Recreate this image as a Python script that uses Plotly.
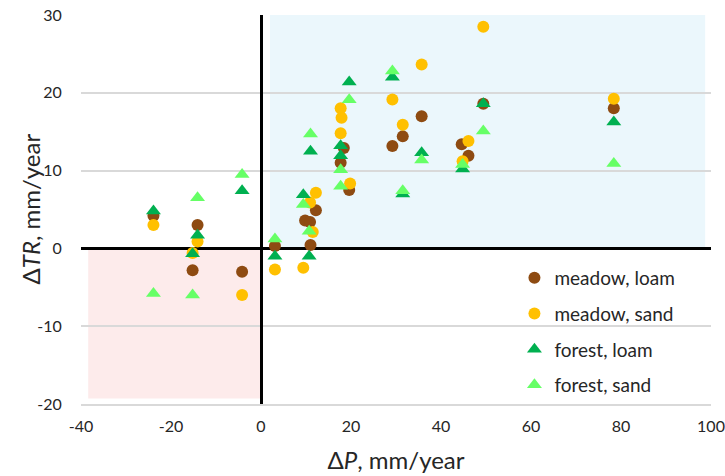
import plotly.graph_objects as go

# meadow, loam
ml_x = [-23.9, -14.1, -15.2, -4.2, 3.1, 9.8, 10.9, 12.2, 11.0, 18.4, 17.7, 19.6, 29.2, 31.5, 35.7, 44.6, 46.1, 49.4, 78.4]
ml_y = [4.2, 3.0, -2.8, -3.0, 0.3, 3.6, 3.4, 4.9, 0.45, 12.9, 11.0, 7.5, 13.15, 14.4, 17.0, 13.4, 11.9, 18.6, 18.0]
# meadow, sand
ms_x = [-23.9, -14.1, -15.2, -4.2, 3.1, 9.4, 10.9, 12.2, 11.5, 17.7, 17.9, 17.7, 19.8, 29.2, 31.5, 35.7, 46.1, 44.8, 49.4, 78.4]
ms_y = [3.0, 0.9, -0.6, -6.0, -2.7, -2.5, 5.9, 7.15, 2.1, 18.0, 16.8, 14.8, 8.35, 19.15, 15.9, 23.65, 13.8, 11.2, 28.5, 19.25]
# forest, loam
fl_x = [-23.9, -14.1, -15.2, -4.2, 3.1, 9.4, 10.7, 11.0, 17.7, 17.7, 19.6, 29.2, 31.5, 35.7, 44.8, 49.4, 78.4]
fl_y = [4.8, 1.7, -0.7, 7.4, -1.0, 6.9, -1.0, 12.5, 13.2, 11.9, 21.4, 22.0, 7.0, 12.3, 10.2, 18.6, 16.25]
# forest, sand
fs_x = [-23.9, -14.1, -15.2, -4.2, 3.1, 9.4, 10.7, 11.0, 17.7, 17.7, 19.6, 29.2, 31.5, 35.7, 44.8, 49.4, 78.4]
fs_y = [-5.8, 6.5, -6.0, 9.5, 1.2, 5.65, 2.2, 14.7, 10.1, 8.0, 19.1, 22.8, 7.4, 11.35, 10.8, 15.1, 10.9]

x_ticks = [-40, -20, 0, 20, 40, 60, 80, 100]
x_tick_labels = ["-40", "-20", "0", "20", "40", "60", "80", "100"]
y_ticks = [-20, -10, 0, 10, 20, 30]
y_tick_labels = ["-20", "-10", "0", "10", "20", "30"]

names = ["meadow, loam", "meadow, sand", "forest, loam", "forest, sand"]
colors = ["#8E4B12", "#FFC000", "#00B050", "#66FF66"]
symbols = ["circle", "circle", "triangle-up", "triangle-up"]
sizes = [12, 12, 13, 13]
xs = [ml_x, ms_x, fl_x, fs_x]
ys = [ml_y, ms_y, fl_y, fs_y]

FONT = "Lato, Calibri, sans-serif"
TXT = "#262626"

fig = go.Figure()
for i in range(4):
    fig.add_trace(go.Scatter(
        x=xs[i], y=ys[i], mode="markers", name=names[i],
        legendgroup=names[i],
        marker=dict(color=colors[i], symbol=symbols[i], size=sizes[i], line=dict(width=0)),
    ))

fig.add_shape(type="rect", xref="x", yref="y", x0=-38.4, x1=0, y0=-19.3, y1=0,
              fillcolor="#FDEBEB", line=dict(width=0), layer="below")
fig.add_shape(type="rect", xref="x", yref="y", x0=2, x1=98.7, y0=0, y1=30,
              fillcolor="#EBF7FC", line=dict(width=0), layer="below")

fig.add_annotation(text="Δ<i>TR</i>, mm/year", xref="paper", yref="paper",
                   x=(30 - 81) / 630, y=0.5, xanchor="center", yanchor="middle",
                   textangle=-90, showarrow=False, font=dict(size=24, color=TXT))

fig.update_layout(
    width=725, height=476,
    margin=dict(l=81, r=14, t=15, b=72, autoexpand=False),
    paper_bgcolor="white", plot_bgcolor="white",
    font=dict(family=FONT, size=16, color=TXT),
    showlegend=True,
    legend=dict(x=0.688, y=0.373, xanchor="left", yanchor="top",
                bgcolor="rgba(0,0,0,0)", font=dict(size=19, color=TXT),
                traceorder="grouped", tracegroupgap=8, itemwidth=30),
    xaxis=dict(range=[-40, 100], tickvals=x_ticks, ticktext=x_tick_labels,
               automargin=False,
               showgrid=False, zeroline=True, zerolinecolor="black", zerolinewidth=2.5,
               showline=True, linecolor="#D9D9D9", linewidth=1.5,
               ticks="outside", ticklen=7, tickcolor="rgba(0,0,0,0)",
               tickfont=dict(size=16, color=TXT),
               title=dict(text="Δ<i>P</i>, mm/year", font=dict(size=24, color=TXT), standoff=18)),
    yaxis=dict(range=[-20, 30], tickvals=y_ticks, ticktext=y_tick_labels,
               automargin=False,
               showgrid=True, gridcolor="#D9D9D9", gridwidth=1.5,
               zeroline=True, zerolinecolor="black", zerolinewidth=2.5,
               ticks="outside", ticklen=15, tickcolor="rgba(0,0,0,0)",
               tickfont=dict(size=16, color=TXT)),
)

fig.write_html("out.html", config={"displayModeBar": False},
               post_script="document.body.style.margin='0';document.body.style.padding='0';")
